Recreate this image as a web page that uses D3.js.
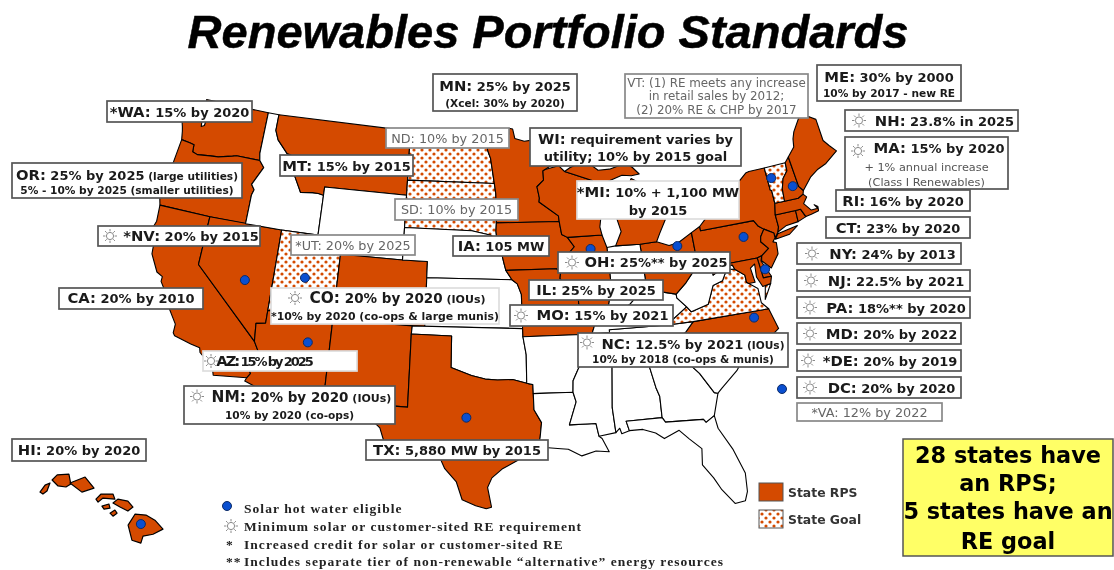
<!DOCTYPE html>
<html lang="en">
<head>
<meta charset="utf-8">
<title>Renewables Portfolio Standards</title>
<script src="https://cdn.jsdelivr.net/npm/d3@7/dist/d3.min.js"></script>
<style>
  html, body { margin: 0; padding: 0; background: #fff; }
  svg { display: block; filter: blur(0.4px); }
</style>
</head>
<body>
<svg id="chart" width="1114" height="570"></svg>
<script>
// state outlines, lon/lat, one or more rings each
var outlines = {
  WA: [[[-124.7,48.38],[-123.2,48.15],[-122.75,48.15],[-122.6,47.3],[-122.35,47.4],[-122.3,48.0],[-122.5,48.5],[-122.76,49],[-117.03,49],[-117.04,46.42],[-116.92,45.99],[-118.98,46],[-119.3,45.93],[-120.5,45.7],[-121.2,45.65],[-122.3,45.55],[-122.75,45.65],[-122.8,46.1],[-123.2,46.15],[-123.95,46.22],[-124.1,46.75],[-124.2,47],[-124.65,47.9]]],
  OR: [[[-123.95,46.22],[-123.2,46.15],[-122.8,46.1],[-122.75,45.65],[-122.3,45.55],[-121.2,45.65],[-120.5,45.7],[-119.3,45.93],[-118.98,46],[-116.92,45.99],[-116.47,45.6],[-117.2,44.45],[-116.9,44.15],[-117.03,43.8],[-117.03,42],[-120,42],[-124.2,42],[-124.55,42.84],[-124.1,44.8]]],
  CA: [[[-124.2,42],[-120,42],[-120,39],[-114.63,35],[-114.14,34.3],[-114.72,33.4],[-114.5,33],[-114.72,32.72],[-117.12,32.53],[-117.3,33],[-118.4,33.75],[-118.5,34.03],[-119.2,34.15],[-120.5,34.45],[-120.65,34.6],[-120.65,35.15],[-121.9,36.6],[-122,36.95],[-122.5,37.5],[-122.5,37.8],[-123,38],[-123.75,39],[-123.85,39.8],[-124.35,40.3],[-124.1,41]]],
  NV: [[[-120,42],[-114.04,42],[-114.04,36.2],[-114.75,36.1],[-114.63,35],[-120,39]]],
  ID: [[[-117.03,49],[-116.05,49],[-116.05,48],[-115.7,47.45],[-114.7,46.7],[-114.35,46.65],[-114.5,45.55],[-113.95,45.7],[-113.45,45.05],[-113,44.45],[-112,44.55],[-111.5,44.55],[-111.05,44.48],[-111.05,42],[-114.04,42],[-117.03,42],[-117.03,43.8],[-116.9,44.15],[-117.2,44.45],[-116.47,45.6],[-116.92,45.99],[-117.04,46.42]]],
  MT: [[[-116.05,49],[-104.05,49],[-104.05,45.94],[-104.05,45],[-111.05,45],[-111.05,44.48],[-111.5,44.55],[-112,44.55],[-113,44.45],[-113.45,45.05],[-113.95,45.7],[-114.5,45.55],[-114.35,46.65],[-114.7,46.7],[-115.7,47.45],[-116.05,48]]],
  WY: [[[-111.05,45],[-104.05,45],[-104.05,43],[-104.05,41],[-109.05,41],[-111.05,41],[-111.05,42],[-111.05,44.48]]],
  UT: [[[-114.04,42],[-111.05,42],[-111.05,41],[-109.05,41],[-109.05,37],[-114.04,37]]],
  CO: [[[-109.05,41],[-104.05,41],[-102.05,41],[-102.05,40],[-102.05,37],[-103,37],[-109.05,37]]],
  AZ: [[[-114.04,37],[-109.05,37],[-109.05,31.33],[-111.07,31.33],[-114.81,32.5],[-114.72,32.72],[-114.5,33],[-114.72,33.4],[-114.14,34.3],[-114.63,35],[-114.75,36.1],[-114.04,36.2]]],
  NM: [[[-109.05,37],[-103,37],[-103.04,36.5],[-103.04,32],[-106.62,32],[-106.53,31.78],[-108.2,31.78],[-108.2,31.33],[-109.05,31.33]]],
  ND: [[[-104.05,49],[-97.23,49],[-97.1,48],[-96.85,47.5],[-96.56,45.94],[-104.05,45.94]]],
  SD: [[[-104.05,45.94],[-96.56,45.94],[-96.45,45.3],[-96.45,43.5],[-96.5,43],[-96.44,42.49],[-97,42.75],[-98.5,43],[-104.05,43]]],
  NE: [[[-104.05,43],[-98.5,43],[-97,42.75],[-96.44,42.49],[-96.1,41.7],[-95.9,41],[-95.77,40.58],[-95.31,40],[-102.05,40],[-102.05,41],[-104.05,41]]],
  KS: [[[-102.05,40],[-95.31,40],[-94.9,39.75],[-94.61,39.1],[-94.62,37],[-102.05,37]]],
  OK: [[[-103,37],[-94.62,37],[-94.62,36.5],[-94.43,35.4],[-94.48,33.64],[-95.5,33.88],[-96.6,33.85],[-97.5,33.9],[-98.5,34.1],[-100,34.56],[-100,36.5],[-103.04,36.5]]],
  TX: [[[-103.04,36.5],[-100,36.5],[-100,34.56],[-98.5,34.1],[-97.5,33.9],[-96.6,33.85],[-95.5,33.88],[-94.48,33.64],[-94.04,33.55],[-94.04,33],[-94.04,32],[-93.55,31.2],[-93.7,30.3],[-93.85,29.7],[-94.7,29.35],[-95.3,28.9],[-96.4,28.35],[-97.1,27.8],[-97.4,27.2],[-97.15,25.97],[-97.5,25.87],[-98.2,26.05],[-99.1,26.4],[-99.5,27.5],[-100.3,28.3],[-100.8,29.25],[-101.4,29.77],[-102.3,29.88],[-102.7,29.7],[-103.15,28.98],[-104.5,29.65],[-104.9,30.6],[-106.53,31.78],[-106.62,32],[-103.04,32]]],
  MN: [[[-97.23,49],[-95.15,49],[-95.15,49.38],[-94.8,49.33],[-94.64,48.74],[-93.8,48.55],[-92.95,48.62],[-92,48.3],[-90.8,48.2],[-89.6,48],[-90.8,47.3],[-92.1,46.75],[-92.3,46.66],[-92.3,46.1],[-92.9,45.7],[-92.75,45],[-92.8,44.75],[-91.25,43.85],[-91.22,43.5],[-96.45,43.5],[-96.45,45.3],[-96.56,45.94],[-96.85,47.5],[-97.1,48]]],
  IA: [[[-96.45,43.5],[-91.22,43.5],[-91.1,42.7],[-90.65,42.5],[-90.15,41.9],[-91.05,41.2],[-91.1,40.7],[-91.42,40.38],[-91.73,40.61],[-95.77,40.58],[-95.9,41],[-96.1,41.7],[-96.44,42.49],[-96.5,43]]],
  MO: [[[-95.77,40.58],[-91.73,40.61],[-91.42,40.38],[-91.5,40],[-90.7,39],[-90.2,38.8],[-90.2,38.4],[-89.5,37.3],[-89.15,37],[-89.4,36.5],[-89.7,36],[-90.37,36],[-90.15,36.5],[-94.62,36.5],[-94.62,37],[-94.61,39.1],[-94.9,39.75],[-95.31,40]]],
  AR: [[[-94.62,36.5],[-90.15,36.5],[-90.37,36],[-89.7,36],[-90.3,35],[-90.6,34.5],[-91.1,33.7],[-91.17,33],[-94.04,33],[-94.04,33.55],[-94.48,33.64],[-94.43,35.4]]],
  LA: [[[-94.04,33],[-91.17,33],[-91,32.4],[-91.6,31],[-89.73,31],[-89.6,30.2],[-89.4,30.05],[-89,29.2],[-89.9,29.3],[-90.9,29.05],[-91.8,29.5],[-92.3,29.55],[-93.85,29.7],[-93.7,30.3],[-93.55,31.2],[-94.04,32]]],
  MS: [[[-91.17,33],[-91.1,33.7],[-90.6,34.5],[-90.3,35],[-88.2,35],[-88.1,34.9],[-88.47,31.9],[-88.4,30.35],[-89.6,30.2],[-89.73,31],[-91.6,31],[-91,32.4]]],
  AL: [[[-88.2,35],[-85.6,34.98],[-85.18,32.87],[-85,32.3],[-85.05,31],[-87.6,31],[-87.45,30.4],[-88,30.25],[-88.1,30.6],[-88.4,30.35],[-88.47,31.9],[-88.1,34.9]]],
  GA: [[[-85.6,34.98],[-84.32,35],[-83.1,35],[-83.35,34.7],[-82.9,34.45],[-81.9,33.4],[-81.1,32.1],[-80.85,32.03],[-81.4,30.7],[-82.05,30.36],[-82.2,30.57],[-84.86,30.7],[-85.05,31],[-85,32.3],[-85.18,32.87]]],
  FL: [[[-87.6,31],[-85.05,31],[-84.86,30.7],[-82.2,30.57],[-82.05,30.36],[-81.4,30.7],[-81.3,29.9],[-80.55,28.45],[-80.05,26.9],[-80.15,25.75],[-80.4,25.2],[-81.1,25.13],[-81.8,26.1],[-82.2,26.9],[-82.8,27.8],[-82.65,28.8],[-83.4,29.5],[-84,30.1],[-85.1,29.7],[-85.65,30.1],[-86.5,30.4],[-87.45,30.4]]],
  SC: [[[-83.1,35],[-82.3,35.2],[-81.05,35.15],[-80.8,34.82],[-79.67,34.8],[-78.55,33.86],[-79.2,33.2],[-80.5,32.3],[-80.85,32.03],[-81.1,32.1],[-81.9,33.4],[-82.9,34.45],[-83.35,34.7]]],
  NC: [[[-84.32,35],[-84,35.4],[-83.5,35.55],[-82.4,36],[-81.68,36.59],[-75.87,36.55],[-75.5,35.25],[-76.5,34.7],[-77.9,33.9],[-78.55,33.86],[-79.67,34.8],[-80.8,34.82],[-81.05,35.15],[-82.3,35.2],[-83.1,35]]],
  TN: [[[-90.3,35],[-88.2,35],[-85.6,34.98],[-84.32,35],[-84,35.4],[-83.5,35.55],[-82.4,36],[-81.68,36.59],[-83.68,36.6],[-88.07,36.68],[-88.07,36.5],[-89.4,36.5],[-89.7,36]]],
  KY: [[[-89.4,36.5],[-88.07,36.5],[-88.07,36.68],[-83.68,36.6],[-81.97,37.54],[-82.6,38.17],[-82.6,38.4],[-83.7,38.65],[-84.8,39.1],[-85.45,38.7],[-86.3,38.1],[-87.1,37.8],[-88.05,37.8],[-88.5,37.1],[-89.15,37]]],
  VA: [[[-83.68,36.6],[-81.68,36.59],[-75.87,36.55],[-76.3,37],[-76.3,37.9],[-77.05,38.4],[-77.05,38.85],[-77.72,39.32],[-78.35,39.4],[-78.85,38.77],[-79.65,38.58],[-80.3,37.5],[-81.68,37.2],[-81.97,37.54]],[[-75.95,37.15],[-75.25,38.03],[-75.7,37.95]]],
  WV: [[[-81.97,37.54],[-81.68,37.2],[-80.3,37.5],[-79.65,38.58],[-78.85,38.77],[-78.35,39.4],[-77.72,39.32],[-77.83,39.6],[-78.4,39.62],[-79.48,39.2],[-79.48,39.72],[-80.52,39.72],[-80.52,40.64],[-80.85,39.7],[-81.7,39],[-82.6,38.4],[-82.6,38.17]]],
  OH: [[[-84.82,41.7],[-83.45,41.73],[-82.5,41.4],[-81.7,41.5],[-80.52,41.98],[-80.52,40.64],[-80.85,39.7],[-81.7,39],[-82.6,38.4],[-83.7,38.65],[-84.8,39.1]]],
  IN: [[[-87.52,41.71],[-86.8,41.76],[-84.82,41.7],[-84.8,39.1],[-85.45,38.7],[-86.3,38.1],[-87.1,37.8],[-88.05,37.8],[-87.53,39.3]]],
  IL: [[[-90.65,42.5],[-87.8,42.5],[-87.52,41.71],[-87.53,39.3],[-88.05,37.8],[-88.5,37.1],[-89.15,37],[-89.5,37.3],[-90.2,38.4],[-90.2,38.8],[-90.7,39],[-91.5,40],[-91.42,40.38],[-91.1,40.7],[-91.05,41.2],[-90.15,41.9]]],
  WI: [[[-92.1,46.75],[-90.9,46.95],[-90.42,46.57],[-88.1,45.9],[-87.6,45.1],[-88,44.55],[-87.3,45.2],[-87.6,44],[-87.9,43],[-87.8,42.5],[-90.65,42.5],[-91.1,42.7],[-91.22,43.5],[-91.25,43.85],[-92.8,44.75],[-92.75,45],[-92.9,45.7],[-92.3,46.1],[-92.3,46.66]]],
  MI: [[[-86.8,41.76],[-84.82,41.7],[-83.45,41.73],[-83.1,42.2],[-82.45,43],[-82.6,43.9],[-83.4,43.95],[-83.9,43.65],[-83.3,44.4],[-83.4,45.1],[-84.75,45.78],[-85.6,44.8],[-86.25,44.7],[-86.5,43.7],[-86.2,42.6]],[[-90.42,46.57],[-88.1,45.9],[-87.6,45.1],[-87,45.7],[-85.5,46.05],[-84.7,45.95],[-84,46],[-84.5,46.45],[-85,46.77],[-86.5,46.5],[-87.5,46.5],[-88.2,46.95],[-87.9,47.45],[-88.9,47.05],[-89.9,46.8]]],
  PA: [[[-80.52,41.98],[-79.76,42.27],[-79.76,42],[-75.35,42],[-75.07,41.6],[-74.7,41.36],[-75.1,40.95],[-75.2,40.65],[-74.72,40.15],[-75.4,39.8],[-75.79,39.72],[-79.48,39.72],[-80.52,39.72],[-80.52,40.64]]],
  NY: [[[-79.76,42],[-79.76,42.27],[-78.9,42.85],[-79.05,43.27],[-76.8,43.3],[-76.2,43.55],[-76.3,44.2],[-75,44.95],[-74.7,45],[-73.35,45],[-73.35,43.6],[-73.25,43.55],[-73.28,42.75],[-73.5,42.05],[-73.5,41.3],[-73.65,41],[-74,40.7],[-74,41],[-74.7,41.36],[-75.07,41.6],[-75.35,42]],[[-74,40.6],[-73.7,40.9],[-72,41.1],[-72.8,40.7]]],
  NJ: [[[-74.7,41.36],[-74,41],[-74,40.7],[-74.25,40.48],[-74,40.4],[-74.1,39.7],[-74.9,38.95],[-75.5,39.5],[-75.4,39.8],[-74.72,40.15],[-75.2,40.65],[-75.1,40.95]]],
  DE: [[[-75.79,39.72],[-75.4,39.8],[-75.55,39.5],[-75.05,38.45],[-75.7,38.46]]],
  MD: [[[-79.48,39.72],[-75.79,39.72],[-75.7,38.46],[-75.05,38.45],[-75.25,38.03],[-75.9,37.95],[-76.2,38.6],[-76.1,39.4],[-76.5,39.2],[-76.4,38.3],[-76.9,38.3],[-77.05,38.4],[-77.05,38.85],[-77.72,39.32],[-77.83,39.6],[-78.4,39.62],[-79.48,39.2]]],
  CT: [[[-73.5,42.05],[-71.8,42.02],[-71.85,41.32],[-72.9,41.25],[-73.65,41],[-73.5,41.3]]],
  RI: [[[-71.8,42.02],[-71.38,42.02],[-71.13,41.5],[-71.85,41.32]]],
  MA: [[[-73.5,42.05],[-73.28,42.75],[-72.46,42.73],[-71.3,42.7],[-70.82,42.87],[-70.6,42.65],[-71,42.3],[-70.55,41.8],[-70,41.8],[-70.2,42.07],[-69.95,41.9],[-70,41.65],[-70.65,41.55],[-71.13,41.5],[-71.38,42.02],[-71.8,42.02]]],
  VT: [[[-73.35,45],[-71.5,45.01],[-71.55,44.5],[-72.05,44.1],[-72.35,43.5],[-72.46,42.73],[-73.28,42.75],[-73.25,43.55],[-73.35,43.6]]],
  NH: [[[-71.5,45.01],[-71.1,45.3],[-70.98,43.4],[-70.7,43.08],[-70.82,42.87],[-71.3,42.7],[-72.46,42.73],[-72.35,43.5],[-72.05,44.1],[-71.55,44.5]]],
  ME: [[[-71.1,45.3],[-70.4,45.8],[-70.25,46.3],[-70,46.7],[-69.2,47.46],[-68.3,47.35],[-67.8,47.07],[-67.8,45.7],[-67.45,45.3],[-67,44.85],[-68.2,44.3],[-69,44.1],[-69.8,43.75],[-70.7,43.08],[-70.98,43.4]]]
};

// Hawaii islands, stretched the way the inset draws them
var hawaiiIslands = [
  [[-160.34,21.36],[-160.1,21.76],[-159.87,21.88],[-160.01,21.42],[-160.2,21.25]],
  [[-159.77,22.05],[-159.53,22.34],[-158.98,22.39],[-158.89,21.82],[-159.12,21.65],[-159.49,21.71]],
  [[-158.93,21.88],[-158.22,22.22],[-157.8,21.59],[-158.37,21.36]],
  [[-157.71,20.96],[-157.47,21.25],[-156.91,21.25],[-156.82,20.96],[-157.38,21.02],[-157.61,20.79]],
  [[-157.43,20.56],[-157.1,20.68],[-157.05,20.45],[-157.33,20.39]],
  [[-156.91,20.74],[-156.68,20.96],[-156.21,20.85],[-155.97,20.51],[-156.21,20.28],[-156.58,20.51]],
  [[-157.05,20.16],[-156.82,20.34],[-156.72,20.16],[-156.91,19.99]],
  [[-156.2,19.48],[-155.87,20.11],[-155.36,20.05],[-154.94,19.76],[-154.56,19.25],[-155.03,18.96],[-155.5,18.85],[-155.6,18.45],[-156.02,18.62]]
];

var rpsStates = ["WA","OR","CA","NV","MT","CO","AZ","NM","TX","MN","IA","WI","IL","MO","MI","OH","PA","NY","NJ","MD","DE","NC","ME","NH","MA","RI","CT"];
var goalStates = ["ND","SD","UT","VT","VA"];

// solar hot water eligible, lon/lat
var hotWaterPoints = [[-116.2,38.6],[-111.6,39.3],[-110.7,35.4],[-98.85,31.5],[-88.85,41.7],[-81.85,41.3],[-76.45,41.15],[-73,44.3],[-71.45,43.5],[-75.4,38.95],[-77.1,36.2]];
var hotWaterHawaii = [[-155.6,19.54]];

var titleText = "Renewables Portfolio Standards";
var labelKeys = ["WA","OR","MT","NV","UT","CA","CO","AZ","NM","ND","SD","MN","VT","WI","MI","IA","OH","IL","MO","NC","TX","HI","ME","NH","MA","RI","CT","NY","NJ","PA","MD","DE","DC","VA"];
var labelLines = {
  WA: ["*WA: 15% by 2020"],
  OR: ["OR: 25% by 2025 (large utilities)", "5% - 10% by 2025 (smaller utilities)"],
  MT: ["MT: 15% by 2015"],
  NV: ["*NV: 20% by 2015"],
  UT: ["*UT: 20% by 2025"],
  CA: ["CA: 20% by 2010"],
  CO: ["CO: 20% by 2020 (IOUs)", "*10% by 2020 (co-ops & large munis)"],
  AZ: ["AZ: 15% by 2025"],
  NM: ["NM: 20% by 2020 (IOUs)", "10% by 2020 (co-ops)"],
  ND: ["ND: 10% by 2015"],
  SD: ["SD: 10% by 2015"],
  MN: ["MN: 25% by 2025", "(Xcel: 30% by 2020)"],
  VT: ["VT: (1) RE meets any increase", "in retail sales by 2012;", "(2) 20% RE & CHP by 2017"],
  WI: ["WI: requirement varies by", "utility; 10% by 2015 goal"],
  MI: ["*MI: 10% + 1,100 MW", "by 2015"],
  IA: ["IA: 105 MW"],
  OH: ["OH: 25%** by 2025"],
  IL: ["IL: 25% by 2025"],
  MO: ["MO: 15% by 2021"],
  NC: ["NC: 12.5% by 2021 (IOUs)", "10% by 2018 (co-ops & munis)"],
  TX: ["TX: 5,880 MW by 2015"],
  HI: ["HI: 20% by 2020"],
  ME: ["ME: 30% by 2000", "10% by 2017 - new RE"],
  NH: ["NH: 23.8% in 2025"],
  MA: ["MA: 15% by 2020", "+ 1% annual increase", "(Class I Renewables)"],
  RI: ["RI: 16% by 2020"],
  CT: ["CT: 23% by 2020"],
  NY: ["NY: 24% by 2013"],
  NJ: ["NJ: 22.5% by 2021"],
  PA: ["PA: 18%** by 2020"],
  MD: ["MD: 20% by 2022"],
  DE: ["*DE: 20% by 2019"],
  DC: ["DC: 20% by 2020"],
  VA: ["*VA: 12% by 2022"]
};
var summaryLines = ["28 states have", "an RPS;", "5 states have an", "RE goal"];
var noteMarks = ["", "", "*", "**"];
var noteLines = ["Solar hot water eligible", "Minimum solar or customer-sited RE requirement", "Increased credit for solar or customer-sited RE", "Includes separate tier of non-renewable \u201calternative\u201d energy resources"];
var legendLines = ["State RPS", "State Goal"];

// box layout: x, y, w, h, line baselines (offset from y), sun offset (0 = none), text start offset
var boxes = {
  WA:[107,101,145,21,[16],0,0], OR:[12,163,230,35,[17,31],0,0], MT:[280,155,133,21,[16],0,0],
  NV:[98,226,162,20,[15],12,26], UT:[291,235,124,20,[15],0,0], CA:[59,288,144,21,[15],0,0],
  CO:[271,288,228,36,[15,32],24,27], AZ:[203,351,154,20,[15],8,-30], NM:[184,386,211,38,[16,33],13,26],
  ND:[386,128,123,20,[15],0,0], SD:[395,199,123,21,[15],0,0], MN:[433,74,144,37,[17,33],0,0],
  VT:[625,74,183,44,[13,26,40],0,0], WI:[530,128,211,38,[16,33],0,0], MI:[577,181,162,38,[16,34],0,0],
  IA:[453,236,96,20,[15],0,0], OH:[558,252,172,21,[15],14,26], IL:[529,280,134,20,[15],0,0],
  MO:[510,305,163,21,[15],11,24], NC:[578,333,210,34,[16,30],9,22], TX:[366,440,182,20,[15],0,0],
  HI:[12,439,134,22,[16],0,0], ME:[817,65,144,36,[17,32],0,0], NH:[845,110,173,21,[16],14,28],
  MA:[845,137,163,52,[16,34,49],13,27], RI:[836,190,134,21,[16],0,0], CT:[826,217,144,21,[16],0,0],
  NY:[797,243,164,21,[16],15,29], NJ:[797,270,173,21,[16],14,27], PA:[797,297,173,21,[16],13,27],
  MD:[797,323,164,21,[16],13,27], DE:[797,350,164,21,[16],11,24], DC:[797,377,164,21,[16],13,27],
  VA:[797,403,145,18,[14],0,0]
};
var lightBoxes = ["VT","ND","SD","UT","VA"];
var paleBorder = ["MI","CO","AZ"];
var lineScale = { CO: 1.04, NM: 1.04 };
var subSize = { CO: 10.9, MA: 11.3, WI: 13, MI: 13, VT: 11.9 };

var orange = "#d44a00";
var svg = d3.select("#chart");

var defs = svg.append("defs");
var dots = defs.append("pattern").attr("id", "goal").attr("patternUnits", "userSpaceOnUse")
  .attr("width", 8).attr("height", 8);
dots.append("rect").attr("width", 8).attr("height", 8).attr("fill", "#fff");
[[2,2],[6,6]].forEach(function(p) {
  dots.append("circle").attr("cx", p[0]).attr("cy", p[1]).attr("r", 1.6).attr("fill", orange);
});

svg.append("text").attr("x", 548).attr("y", 48).attr("text-anchor", "middle")
  .attr("font-family", "Liberation Sans").attr("font-weight", "bold").attr("font-style", "italic")
  .attr("font-size", 47).attr("fill", "#000").attr("stroke", "#000").attr("stroke-width", 0.5).text(titleText);

// map: albers, then fitted to the picture. the source map leans a bit, hence the shear
var albers = d3.geoAlbers().scale(1).translate([0, 0]);
var mapX = d3.scaleLinear().domain([0, 1]).range([496, 1450]);
var mapY = d3.scaleLinear().domain([0, 1]).range([301, 1226]);
function mapPoint(p) {
  var a = albers(p);
  var y = mapY(a[1]);
  if (a[0] < 0) y += 60 * a[0] * a[0];
  return [mapX(a[0]) + 0.025 * (y - 300), y];
}
var mapPath = d3.geoPath(d3.geoTransform({
  point: function(lon, lat) {
    var m = mapPoint([lon, lat]);
    this.stream.point(m[0], m[1]);
  }
}));
var hawaiiX = d3.scaleLinear().domain([-160.15, -155.5]).range([44, 143]);
var hawaiiY = d3.scaleLinear().domain([22.05, 19.6]).range([480, 523]);
var hawaiiPath = d3.geoPath(d3.geoTransform({
  point: function(lon, lat) { this.stream.point(hawaiiX(lon), hawaiiY(lat)); }
}));

function toFeature(rings) {
  return { type: "MultiPolygon", coordinates: rings.map(function(r) { return [r.concat([r[0]])]; }) };
}
function stateFill(id) {
  if (rpsStates.indexOf(id) >= 0) return orange;
  if (goalStates.indexOf(id) >= 0) return "url(#goal)";
  return "#fff";
}

svg.append("g").selectAll("path").data(Object.keys(outlines)).enter().append("path")
  .attr("d", function(id) { return mapPath(toFeature(outlines[id])); })
  .attr("fill", stateFill).attr("stroke", "#000").attr("stroke-width", 1.1).attr("stroke-linejoin", "round");
svg.append("g").selectAll("path").data(hawaiiIslands).enter().append("path")
  .attr("d", function(r) { return hawaiiPath(toFeature([r])); })
  .attr("fill", orange).attr("stroke", "#000").attr("stroke-width", 1.2).attr("stroke-linejoin", "round");

function blueDot(g, x, y) {
  g.append("circle").attr("cx", x).attr("cy", y).attr("r", 4.5)
    .attr("fill", "#0a4fd0").attr("stroke", "#0b2a66").attr("stroke-width", 1);
}
function sun(g, x, y) {
  var s = g.append("g").attr("transform", "translate(" + x + "," + y + ")")
    .attr("stroke", "#8a8a8a").attr("fill", "none").attr("stroke-width", 1);
  s.append("circle").attr("r", 3.6);
  d3.range(8).forEach(function(i) {
    var a = i * Math.PI / 4;
    s.append("line").attr("x1", 4.6 * Math.cos(a)).attr("y1", 4.6 * Math.sin(a))
      .attr("x2", 7 * Math.cos(a)).attr("y2", 7 * Math.sin(a));
  });
}

var marks = svg.append("g");
hotWaterPoints.forEach(function(p) { var m = mapPoint(p); blueDot(marks, m[0], m[1]); });
hotWaterHawaii.forEach(function(p) { blueDot(marks, hawaiiX(p[0]), hawaiiY(p[1])); });

// labels
var labels = svg.append("g").attr("font-family", "DejaVu Sans");
labelKeys.forEach(function(key) {
  var b = boxes[key];
  var light = lightBoxes.indexOf(key) >= 0;
  var k = lineScale[key] || 1;
  var g = labels.append("g");
  g.append("rect").attr("x", b[0]).attr("y", b[1]).attr("width", b[2]).attr("height", b[3])
    .attr("fill", "#fff").attr("stroke", paleBorder.indexOf(key) >= 0 ? "#ddd" : (light ? "#888" : "#555"))
    .attr("stroke-width", 1.7);
  if (b[5]) sun(g, b[0] + b[5], b[1] + b[3] / 2 - (labelLines[key].length > 1 ? b[3] / 4 - 1 : 0));
  var cx = b[6] ? b[0] + (b[6] + b[2] - 2) / 2 : b[0] + b[2] / 2;
  labelLines[key].forEach(function(line, i) {
    var t = g.append("text").attr("x", i > 0 ? b[0] + b[2] / 2 : cx).attr("y", b[1] + b[4][i]).attr("text-anchor", "middle")
      .attr("fill", light ? "#666" : "#1a1a1a").attr("font-weight", light ? "normal" : "bold");
    if (i > 0) {
      var subtle = key === "MA";
      t.attr("font-size", subSize[key] || 10.6)
        .attr("font-weight", subtle || light ? "normal" : "bold")
        .attr("fill", subtle ? "#555" : (light ? "#666" : "#1a1a1a")).text(line);
      return;
    }
    if (key === "VT") { t.attr("font-size", 11.9).text(line); return; }
    var m = line.match(/^(\*?[A-Z]{2}:)( .*?)( \(.*\))?$/);
    t.append("tspan").attr("font-size", light ? 12.8 : 14.8 * k).text(m[1]);
    t.append("tspan").attr("font-size", light ? 12.8 : 13 * k).text(m[2]);
    if (m[3]) t.append("tspan").attr("font-size", 10.6 * k).text(m[3]);
    if (key === "AZ") t.attr("letter-spacing", -2.1);
  });
});

// extra dot next to the DC label
blueDot(svg, 782, 389);

// summary box
var summary = svg.append("g");
summary.append("rect").attr("x", 903).attr("y", 439).attr("width", 210).attr("height", 117)
  .attr("fill", "#ffff66").attr("stroke", "#555").attr("stroke-width", 1.5);
var summaryBase = [463, 491, 519, 549];
summary.selectAll("text").data(summaryLines).enter().append("text")
  .attr("x", 1008).attr("y", function(d, i) { return summaryBase[i]; })
  .attr("text-anchor", "middle").attr("font-family", "DejaVu Sans").attr("font-weight", "bold")
  .attr("font-size", 22.4).attr("fill", "#000").text(function(d) { return d; });

// legend swatches
var legendFills = [orange, "url(#goal)"];
var legendY = [483, 510];
legendLines.forEach(function(t, i) {
  svg.append("rect").attr("x", 759).attr("y", legendY[i]).attr("width", 24).attr("height", 18)
    .attr("fill", legendFills[i]).attr("stroke", "#555").attr("stroke-width", 1);
  svg.append("text").attr("x", 788).attr("y", legendY[i] + 14).attr("font-family", "DejaVu Sans")
    .attr("font-weight", "bold").attr("font-size", 12.4).attr("fill", "#333").text(t);
});

// notes
var noteBase = [513, 531, 549, 566];
noteLines.forEach(function(t, i) {
  svg.append("text").attr("x", 244).attr("y", noteBase[i]).attr("font-family", "Liberation Serif")
    .attr("font-weight", "bold").attr("font-size", 13.5).attr("letter-spacing", 1.05).attr("fill", "#222").text(t);
  if (noteMarks[i]) svg.append("text").attr("x", 226).attr("y", noteBase[i]).attr("font-family", "Liberation Serif")
    .attr("font-weight", "bold").attr("font-size", 13.5).attr("letter-spacing", 1.05).attr("fill", "#222").text(noteMarks[i]);
});
blueDot(svg, 227, 506);
sun(svg, 231, 526);
</script>
</body>
</html>
